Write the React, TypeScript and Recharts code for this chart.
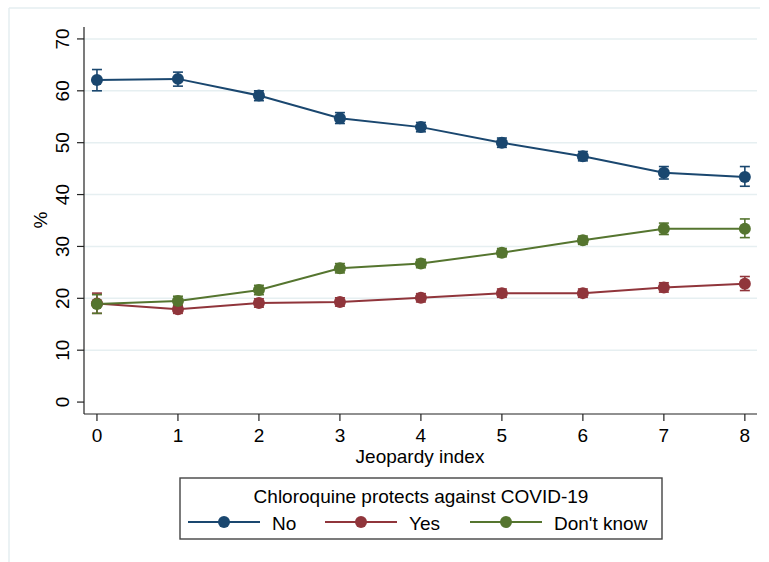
import React from "react";
import { LineChart, Line, XAxis, YAxis, CartesianGrid, ErrorBar } from "recharts";

const categories = [0, 1, 2, 3, 4, 5, 6, 7, 8];
const yTicks = [0, 10, 20, 30, 40, 50, 60, 70];

const noVals = [62.1, 62.3, 59.1, 54.7, 53.0, 50.0, 47.4, 44.2, 43.4];
const noLow = [60.0, 60.9, 58.1, 53.7, 52.1, 49.1, 46.5, 43.0, 41.6];
const noHigh = [64.1, 63.6, 60.0, 55.8, 53.9, 50.9, 48.3, 45.4, 45.4];

const yesVals = [19.0, 17.9, 19.1, 19.3, 20.1, 21.0, 21.0, 22.1, 22.8];
const yesLow = [17.1, 17.1, 18.3, 18.5, 19.3, 20.2, 20.2, 21.2, 21.5];
const yesHigh = [21.0, 18.7, 19.9, 20.1, 20.9, 21.8, 21.8, 23.0, 24.2];

const dkVals = [18.9, 19.5, 21.6, 25.8, 26.7, 28.8, 31.2, 33.4, 33.4];
const dkLow = [17.1, 18.6, 20.7, 24.9, 25.9, 28.0, 30.4, 32.3, 31.7];
const dkHigh = [20.7, 20.4, 22.5, 26.7, 27.5, 29.6, 32.0, 34.5, 35.3];

const seriesNames = ["No", "Yes", "Don't know"];
const seriesKeys = ["no", "yes", "dk"];
const seriesColors = ["#1a476f", "#90353b", "#55752f"];
const legendTitle = "Chloroquine protects against COVID-19";
const xTitle = "Jeopardy index";
const yTitle = "%";

const data = categories.map((c, i) => ({
  x: c,
  no: noVals[i],
  noErr: [noVals[i] - noLow[i], noHigh[i] - noVals[i]],
  yes: yesVals[i],
  yesErr: [yesVals[i] - yesLow[i], yesHigh[i] - yesVals[i]],
  dk: dkVals[i],
  dkErr: [dkVals[i] - dkLow[i], dkHigh[i] - dkVals[i]],
}));

const FONT = "'Liberation Sans', Arial, Helvetica, sans-serif";
const FS = 19;

const YTick = (props: any) => {
  const { y, payload } = props;
  const cx = 62;
  return (
    <text
      x={cx}
      y={y}
      dy="0.36em"
      textAnchor="middle"
      transform={`rotate(-90 ${cx} ${y})`}
      fontFamily={FONT}
      fontSize={FS}
      fill="#000"
    >
      {payload.value}
    </text>
  );
};

const XTick = (props: any) => {
  const { x, payload } = props;
  return (
    <text x={x} y={442} textAnchor="middle" fontFamily={FONT} fontSize={FS} fill="#000">
      {payload.value}
    </text>
  );
};

const legendItemX = [188, 325, 470];

export default function App() {
  return (
    <div style={{ position: "absolute", left: 0, top: 0, width: 769, height: 562, background: "#fff" }}>
      <LineChart
        width={769}
        height={562}
        data={data}
        margin={{ top: 27, right: 12, bottom: 94, left: 0 }}
      >
        <CartesianGrid
          vertical={false}
          horizontalValues={[10, 20, 30, 40, 50, 60, 70]}
          stroke="#e6eff1"
          strokeWidth={1.5}
        />
        <XAxis
          type="number"
          dataKey="x"
          domain={[-0.16, 8.15]}
          ticks={categories}
          allowDataOverflow
          height={54}
          axisLine={{ stroke: "#222", strokeWidth: 1.2 }}
          tickLine={{ stroke: "#222", strokeWidth: 1.2 }}
          tickSize={7}
          tick={<XTick />}
          interval={0}
          label={{
            content: () => (
              <text x={420} y={463} textAnchor="middle" fontFamily={FONT} fontSize={FS} fill="#000">
                {xTitle}
              </text>
            ),
          }}
        />
        <YAxis
          type="number"
          domain={[-2.3, 72.3]}
          ticks={yTicks}
          allowDataOverflow
          width={84}
          axisLine={{ stroke: "#222", strokeWidth: 1.2 }}
          tickLine={{ stroke: "#222", strokeWidth: 1.2 }}
          tickSize={7}
          tick={<YTick />}
          interval={0}
          label={{
            content: () => (
              <text
                x={40}
                y={220}
                dy="0.36em"
                textAnchor="middle"
                transform={`rotate(-90 40 220)`}
                fontFamily={FONT}
                fontSize={FS}
                fill="#000"
              >
                {yTitle}
              </text>
            ),
          }}
        />
        {seriesKeys.map((k, i) => (
          <Line
            key={k}
            type="linear"
            dataKey={k}
            name={seriesNames[i]}
            stroke={seriesColors[i]}
            strokeWidth={2}
            dot={{ r: 6, fill: seriesColors[i], stroke: seriesColors[i], strokeWidth: 0 }}
            activeDot={false}
            isAnimationActive={false}
          >
            <ErrorBar
              dataKey={`${k}Err`}
              direction="y"
              width={5}
              stroke={seriesColors[i]}
              strokeWidth={1.6}
            />
          </Line>
        ))}
      </LineChart>
      <svg
        width={769}
        height={562}
        style={{ position: "absolute", left: 0, top: 0, pointerEvents: "none" }}
      >
        <line x1={9} y1={8} x2={760} y2={8} stroke="#e4eef0" strokeWidth={1.5} />
        <line x1={9} y1={8} x2={9} y2={562} stroke="#e4eef0" strokeWidth={1.5} />
        <rect x={180} y={478} width={482} height={61} fill="#fff" stroke="#444" strokeWidth={1.4} />
        <text x={421} y={503} textAnchor="middle" fontFamily={FONT} fontSize={FS} fill="#000">
          {legendTitle}
        </text>
        {seriesNames.map((n, i) => {
          const lx = legendItemX[i];
          return (
            <g key={n}>
              <line x1={lx} y1={522} x2={lx + 72} y2={522} stroke={seriesColors[i]} strokeWidth={2} />
              <circle cx={lx + 36} cy={522} r={6} fill={seriesColors[i]} />
              <text x={lx + 84} y={530} fontFamily={FONT} fontSize={FS} fill="#000">
                {n}
              </text>
            </g>
          );
        })}
      </svg>
    </div>
  );
}
